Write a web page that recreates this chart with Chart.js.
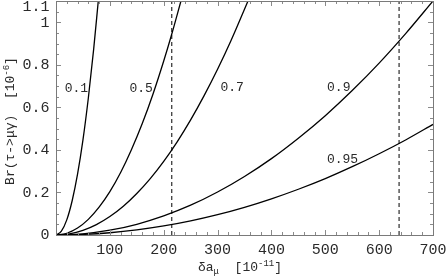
<!DOCTYPE html>
<html><head><meta charset="utf-8">
<script src="https://cdn.jsdelivr.net/npm/chart.js@4"></script>
<style>html,body{margin:0;padding:0;background:#fff;overflow:hidden}</style>
</head><body>
<canvas id="c" width="446" height="277"></canvas>
<script>
// ---- data ----
const curveNames = ['0.1', '0.5', '0.7', '0.9', '0.95'];
const x01 = [0, 10, 20, 30, 40, 50, 60, 70, 78.5];
const y01 = [0, 0.018, 0.071, 0.161, 0.286, 0.446, 0.643, 0.875, 1.1];
const x05 = [0, 20, 40, 60, 80, 100, 120, 140, 160, 180, 200, 215, 232];
const y05 = [0, 0.0082, 0.0327, 0.0736, 0.131, 0.204, 0.294, 0.401, 0.523, 0.662, 0.818, 0.945, 1.1];
const x07 = [0, 25, 50, 75, 100, 125, 150, 175, 200, 225, 250, 275, 300, 325, 356.5];
const y07 = [0, 0.0054, 0.0216, 0.0487, 0.0866, 0.135, 0.195, 0.265, 0.346, 0.438, 0.541, 0.655, 0.779, 0.914, 1.1];
const x09 = [0, 50, 100, 150, 200, 250, 300, 350, 400, 450, 500, 550, 600, 650, 700];
const y09 = [0, 0.0056, 0.0224, 0.0505, 0.0898, 0.140, 0.202, 0.275, 0.359, 0.455, 0.561, 0.679, 0.808, 0.949, 1.1];
const x095 = [0, 50, 100, 150, 200, 250, 300, 350, 400, 450, 500, 550, 600, 650, 700];
const y095 = [0, 0.0027, 0.0106, 0.0239, 0.0424, 0.0663, 0.0955, 0.130, 0.170, 0.215, 0.265, 0.321, 0.382, 0.448, 0.52];
const dashedX = [215, 637];
const xTickValues = [100, 200, 300, 400, 500, 600, 700];
const xTickLabels = ['100', '200', '300', '400', '500', '600', '700'];
const yTickValues = [0, 0.2, 0.4, 0.6, 0.8, 1, 1.1];
const yTickLabels = ['0', '0.2', '0.4', '0.6', '0.8', '1', '1.1'];
// curve label anchors (data coordinates)
const labelX = [38, 158, 327, 525, 532];
const labelY = [0.692, 0.692, 0.696, 0.695, 0.355];

const X_MIN = 0, X_MAX = 700, Y_MIN = 0, Y_MAX = 1.1;
const FONT = '"Liberation Mono", "DejaVu Sans Mono", monospace';
const TXT = '#2a2a2a';

function pts(xs, ys) { return xs.map((x, i) => ({x: x, y: ys[i]})); }
const curves = [[x01, y01], [x05, y05], [x07, y07], [x09, y09], [x095, y095]];
const datasets = curves.map((c, i) => ({
  label: curveNames[i], data: pts(c[0], c[1]),
  borderColor: '#000', borderWidth: 1.3, pointRadius: 0,
  cubicInterpolationMode: 'monotone', fill: false
}));
dashedX.forEach(v => datasets.push({
  label: 'limit ' + v, data: [{x: v, y: Y_MIN}, {x: v, y: Y_MAX}],
  borderColor: '#000', borderWidth: 1, borderDash: [4, 3], pointRadius: 0, fill: false
}));

function drawRich(ctx, parts, x, y) {
  let total = 0;
  parts.forEach(p => { ctx.font = p.size + 'px ' + FONT; p.w = ctx.measureText(p.t).width; total += p.w; });
  let cx = x - total / 2;
  parts.forEach(p => {
    ctx.font = p.size + 'px ' + FONT;
    ctx.fillText(p.t, cx, y + (p.dy || 0));
    cx += p.w;
  });
}

const framePlugin = {
  id: 'frame',
  afterDraw(chart) {
    const ctx = chart.ctx, xs = chart.scales.x, ys = chart.scales.y;
    const L = xs.left, R = xs.right, T = ys.top, B = ys.bottom;
    ctx.save();
    // ticks
    ctx.strokeStyle = '#8a8a8a'; ctx.lineWidth = 1;
    ctx.beginPath();
    for (let v = 20; v < X_MAX; v += 20) {
      const px = Math.round(xs.getPixelForValue(v)) + 0.5;
      const len = (v % 100 === 0) ? 5 : 3;
      ctx.moveTo(px, B); ctx.lineTo(px, B - len);
      ctx.moveTo(px, T); ctx.lineTo(px, T + len);
    }
    for (let k = 1; k < 22; k++) {
      const v = k * 0.05;
      const py = Math.round(ys.getPixelForValue(v)) + 0.5;
      const len = (k % 4 === 0) ? 5 : 3;
      ctx.moveTo(L, py); ctx.lineTo(L + len, py);
      ctx.moveTo(R, py); ctx.lineTo(R - len, py);
    }
    ctx.stroke();
    // frame
    ctx.strokeStyle = '#7a7a7a';
    ctx.strokeRect(Math.round(L) + 0.5, Math.round(T) + 0.5, Math.round(R - L), Math.round(B - T));
    // tick labels
    ctx.fillStyle = TXT;
    ctx.font = '15px ' + FONT;
    ctx.textAlign = 'center'; ctx.textBaseline = 'middle';
    xTickValues.forEach((v, i) => ctx.fillText(xTickLabels[i], xs.getPixelForValue(v), 250.5));
    ctx.textAlign = 'right';
    yTickValues.forEach((v, i) => ctx.fillText(yTickLabels[i], 49.5, Math.max(ys.getPixelForValue(v) + 0.5, 7)));
    // curve labels
    ctx.font = '13px ' + FONT; ctx.textAlign = 'center';
    curveNames.forEach((n, i) => ctx.fillText(n, xs.getPixelForValue(labelX[i]), ys.getPixelForValue(labelY[i]) + 0.5));
    // axis titles
    ctx.textAlign = 'left'; ctx.textBaseline = 'alphabetic';
    drawRich(ctx, [
      {t: 'δa', size: 13}, {t: 'μ', size: 9, dy: 3}, {t: '  [10', size: 13},
      {t: '-11', size: 9, dy: -5}, {t: ']', size: 13}
    ], 240, 271);
    ctx.translate(14, 121); ctx.rotate(-Math.PI / 2);
    drawRich(ctx, [
      {t: 'Br(τ->μγ)', size: 13}, {t: '  [10', size: 13},
      {t: '-6', size: 9, dy: -5}, {t: ']', size: 13}
    ], 0, 0);
    ctx.restore();
  }
};

new Chart(document.getElementById('c'), {
  type: 'line',
  data: {datasets: datasets},
  options: {
    responsive: false, animation: false, parsing: true,
    layout: {padding: {left: 56, right: 13, top: 1, bottom: 42}},
    scales: {
      x: {type: 'linear', min: X_MIN, max: X_MAX, display: false},
      y: {type: 'linear', min: Y_MIN, max: Y_MAX, display: false}
    },
    plugins: {legend: {display: false}, tooltip: {enabled: false}},
    elements: {point: {radius: 0}}
  },
  plugins: [framePlugin]
});
</script>
</body></html>
